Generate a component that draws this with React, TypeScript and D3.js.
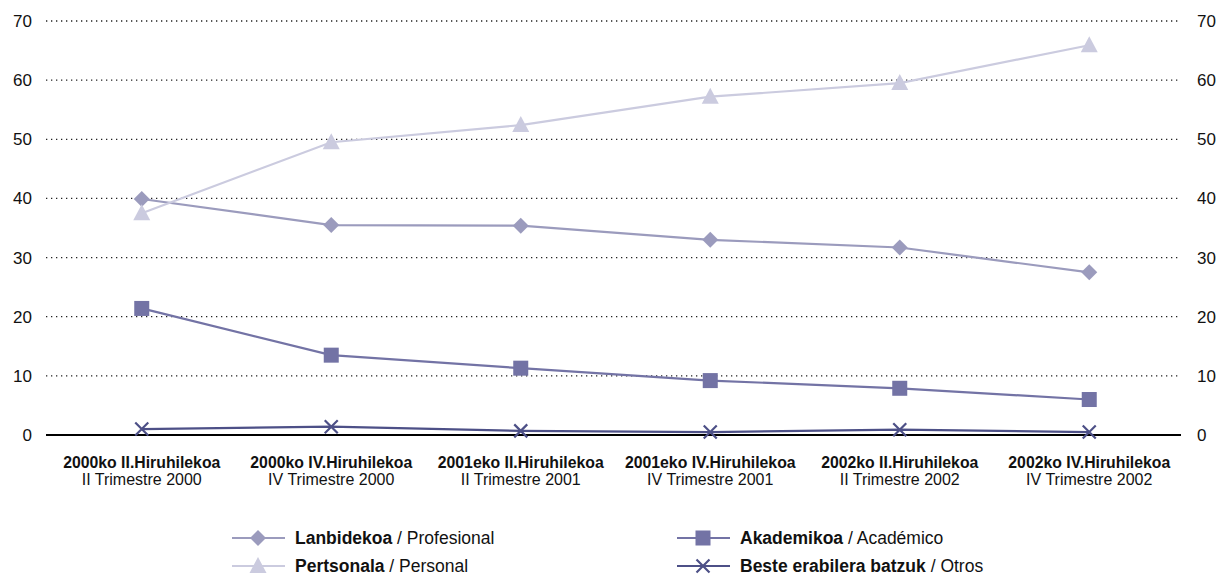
import React from 'react';
import * as d3 from 'd3';

const W = 1222;
const H = 576;

const categoriesEu = [
  '2000ko II.Hiruhilekoa',
  '2000ko IV.Hiruhilekoa',
  '2001eko II.Hiruhilekoa',
  '2001eko IV.Hiruhilekoa',
  '2002ko II.Hiruhilekoa',
  '2002ko IV.Hiruhilekoa',
];
const categoriesEs = [
  'II Trimestre 2000',
  'IV Trimestre 2000',
  'II Trimestre 2001',
  'IV Trimestre 2001',
  'II Trimestre 2002',
  'IV Trimestre 2002',
];

const lanbidekoa = [39.9, 35.5, 35.4, 33.0, 31.7, 27.5];
const pertsonala = [37.5, 49.5, 52.4, 57.2, 59.5, 65.9];
const akademikoa = [21.4, 13.5, 11.3, 9.2, 7.9, 6.0];
const besteak = [1.0, 1.4, 0.7, 0.5, 0.9, 0.5];

const yTicks = [0, 10, 20, 30, 40, 50, 60, 70];

const series = [
  { key: 'lan', values: lanbidekoa, color: '#9b9bbd', marker: 'diamond', bold: 'Lanbidekoa', rest: 'Profesional' },
  { key: 'per', values: pertsonala, color: '#cbcbdf', marker: 'triangle', bold: 'Pertsonala', rest: 'Personal' },
  { key: 'aka', values: akademikoa, color: '#7373a5', marker: 'square', bold: 'Akademikoa', rest: 'Académico' },
  { key: 'bes', values: besteak, color: '#4d5087', marker: 'cross', bold: 'Beste erabilera batzuk', rest: 'Otros' },
];

const margin = { left: 46, right: 41, top: 21, bottom: 141 };

function Marker({ type, x, y, color }: { type: string; x: number; y: number; color: string }) {
  if (type === 'diamond') {
    return <path d={`M${x},${y - 8}L${x + 8},${y}L${x},${y + 8}L${x - 8},${y}Z`} fill={color} />;
  }
  if (type === 'square') {
    return <rect x={x - 7.5} y={y - 7.5} width={15} height={15} fill={color} />;
  }
  if (type === 'triangle') {
    return <path d={`M${x},${y - 9}L${x + 8.5},${y + 7}L${x - 8.5},${y + 7}Z`} fill={color} />;
  }
  return (
    <path
      d={`M${x - 6.5},${y - 6.5}L${x + 6.5},${y + 6.5}M${x - 6.5},${y + 6.5}L${x + 6.5},${y - 6.5}`}
      stroke={color}
      strokeWidth={2.2}
      fill="none"
    />
  );
}

export default function App() {
  const x0 = margin.left;
  const x1 = W - margin.right;
  const y0 = H - margin.bottom;

  const x = d3.scaleBand<number>()
    .domain(d3.range(categoriesEu.length))
    .range([x0 + 1, x1 + 3]);
  const cx = (i: number) => (x(i) as number) + x.bandwidth() / 2;

  const y = d3.scaleLinear().domain([0, 70]).range([y0, margin.top]);

  const line = d3.line<number>()
    .x((_, i) => cx(i))
    .y((d) => y(d));

  const font = '"Liberation Sans", Arial, sans-serif';

  const legendPos = [
    { lx: 232, ly: 538 },
    { lx: 232, ly: 566 },
    { lx: 677, ly: 538 },
    { lx: 677, ly: 566 },
  ];

  return (
    <svg width={W} height={H} style={{ position: 'absolute', left: 0, top: 0 }} fontFamily={font}>
      <rect width={W} height={H} fill="#fff" />
      {yTicks.filter((t) => t > 0).map((t) => (
        <line
          key={t}
          x1={x0}
          x2={x1}
          y1={y(t)}
          y2={y(t)}
          stroke="#222"
          strokeWidth={1.3}
          strokeDasharray="1.3 3.7"
        />
      ))}
      {yTicks.map((t) => (
        <g key={'l' + t} fontSize={17} fill="#111">
          <text x={32} y={y(t)} dy="0.35em" textAnchor="end">{t}</text>
          <text x={1197} y={y(t)} dy="0.35em" textAnchor="start">{t}</text>
        </g>
      ))}
      <line x1={x0} x2={x1} y1={y0} y2={y0} stroke="#000" strokeWidth={2.2} />

      {categoriesEu.map((c, i) => (
        <g key={c} fontSize={16} fill="#111" textAnchor="middle">
          <text x={cx(i)} y={468} fontSize={15.8} fontWeight="bold">{c}</text>
          <text x={cx(i)} y={485}>{categoriesEs[i]}</text>
        </g>
      ))}

      {series.map((s) => (
        <g key={s.key}>
          <path d={line(s.values) as string} fill="none" stroke={s.color} strokeWidth={2.2} />
          {s.values.map((v, i) => (
            <Marker key={i} type={s.marker} x={cx(i)} y={y(v)} color={s.color} />
          ))}
        </g>
      ))}

      {series.map((s, k) => {
        const { lx, ly } = legendPos[k];
        return (
          <g key={'lg' + s.key}>
            <line x1={lx} x2={lx + 53} y1={ly} y2={ly} stroke={s.color} strokeWidth={2.2} />
            <Marker type={s.marker} x={lx + 26} y={ly} color={s.color} />
            <text x={lx + 63} y={ly} dy="0.35em" fontSize={17.5} fill="#111">
              <tspan fontWeight="bold">{s.bold}</tspan>
              <tspan> / {s.rest}</tspan>
            </text>
          </g>
        );
      })}
    </svg>
  );
}
